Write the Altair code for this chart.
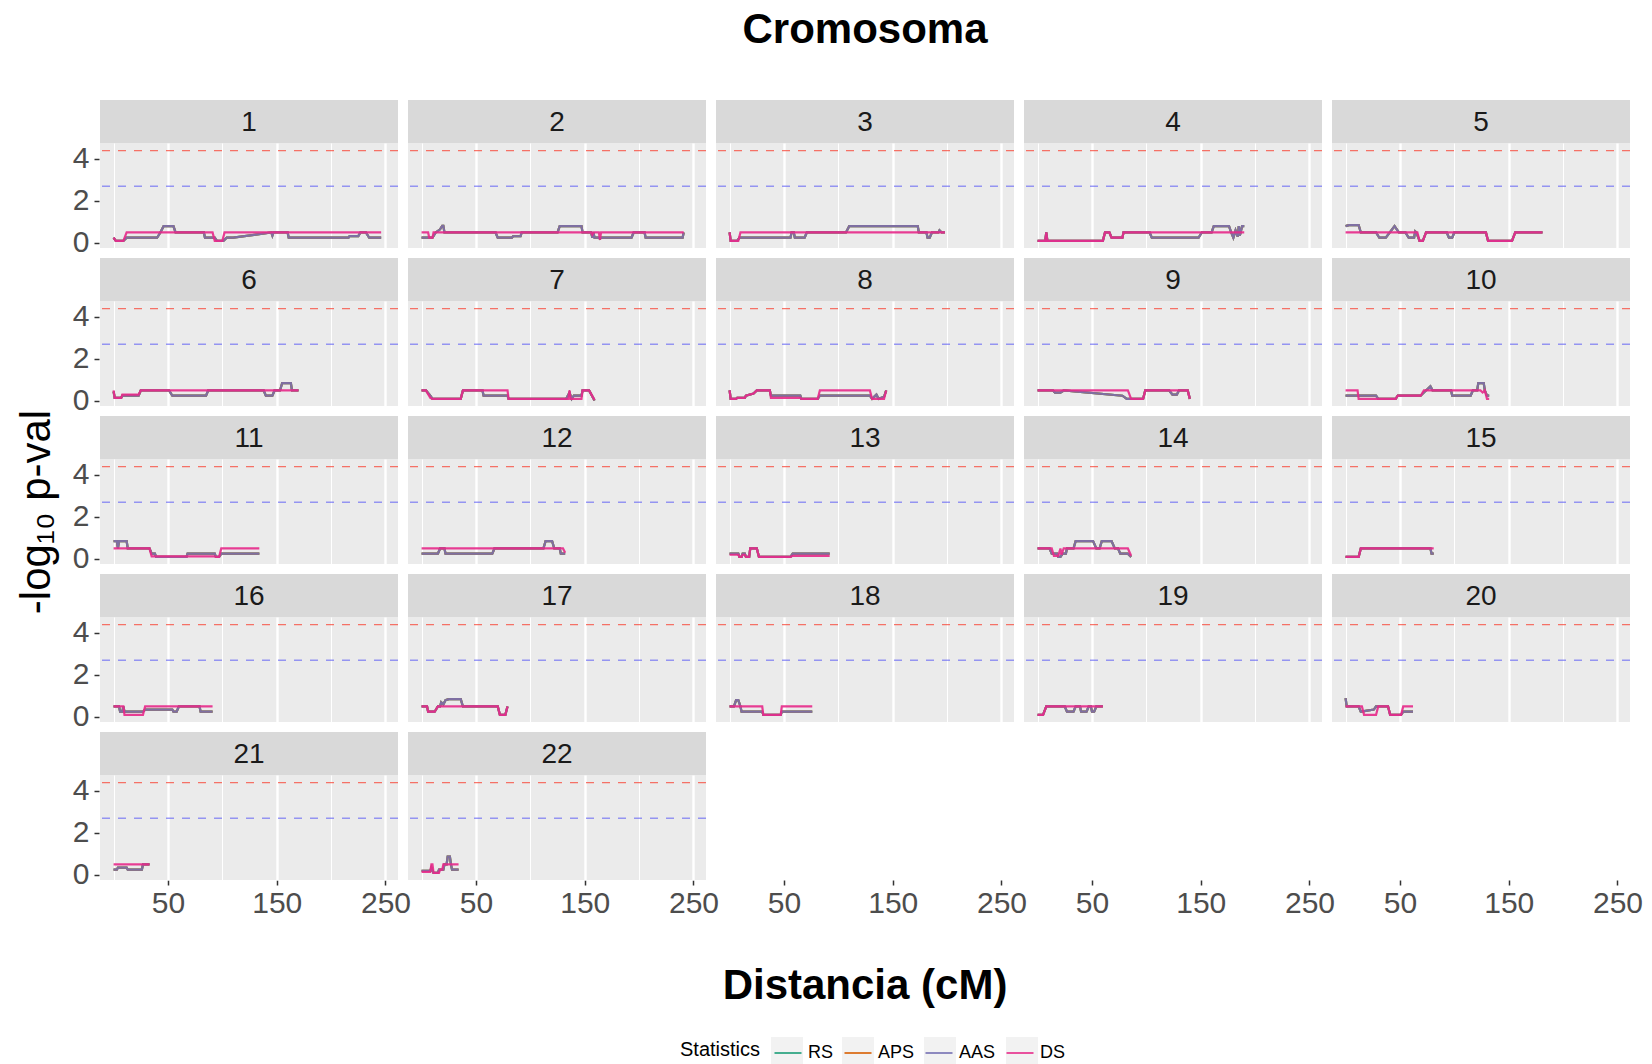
import altair as alt
import pandas as pd

FONT = "Liberation Sans"

# Statistics and their line colours
STATS = ["RS", "APS", "AAS", "DS"]
STAT_COLORS = ["#1B9E77", "#D95F02", "#7570B3", "#E7298A"]
KEY_FILL = "#F2F2F2"

# Significance thresholds (-log10 p)
THRESH_HIGH = 4.4
THRESH_LOW = 2.7

# -log10 p-values along each chromosome: (position in cM, value)
AAS = {
    1: [(0, 0.25), (2, 0.1), (9, 0.1), (12, 0.25), (40, 0.25), (43, 0.5), (46, 0.8), (55, 0.8), (57, 0.5),
        (83, 0.5), (84, 0.25), (93, 0.25), (95, 0.1), (101, 0.1), (104, 0.25), (110, 0.25), (145, 0.5),
        (146, 0.35), (147, 0.5), (160, 0.5), (161, 0.25), (216, 0.25), (217, 0.33), (225, 0.33),
        (227, 0.5), (232, 0.5), (235, 0.25), (246, 0.25)],
    2: [(0, 0.25), (10, 0.25), (13, 0.5), (17, 0.65), (19, 0.82), (20, 0.82), (21, 0.5), (68, 0.5),
        (70, 0.25), (83, 0.25), (84, 0.32), (91, 0.32), (92, 0.5), (125, 0.5), (127, 0.8), (147, 0.8),
        (148, 0.5), (156, 0.5), (157, 0.25), (158, 0.5), (159, 0.25), (163, 0.25), (164, 0.2),
        (165, 0.25), (193, 0.25), (195, 0.5), (205, 0.5), (206, 0.25), (240, 0.25), (241, 0.5)],
    3: [(0, 0.5), (1, 0.1), (7, 0.1), (9, 0.25), (56, 0.25), (57, 0.5), (59, 0.5), (60, 0.25), (69, 0.25),
        (71, 0.5), (107, 0.5), (110, 0.8), (173, 0.8), (174, 0.5), (181, 0.5), (182, 0.25), (184, 0.25),
        (186, 0.5), (192, 0.5), (193, 0.6), (195, 0.5), (198, 0.5)],
    4: [(0, 0.1), (7, 0.1), (8, 0.5), (9, 0.1), (60, 0.1), (62, 0.5), (66, 0.5), (68, 0.25), (78, 0.25),
        (79, 0.5), (103, 0.5), (105, 0.25), (148, 0.25), (151, 0.5), (160, 0.5), (162, 0.8), (176, 0.8),
        (178, 0.5), (180, 0.25), (182, 0.6), (184, 0.3), (185, 0.8), (186, 0.35), (188, 0.8), (190, 0.8)],
    5: [(0, 0.8), (3, 0.85), (12, 0.85), (14, 0.5), (28, 0.5), (31, 0.25), (37, 0.25), (45, 0.8), (49, 0.5),
        (55, 0.5), (58, 0.25), (63, 0.25), (64, 0.55), (65, 0.5), (68, 0.1), (71, 0.1), (74, 0.5), (93, 0.5),
        (95, 0.25), (98, 0.25), (100, 0.5), (129, 0.5), (131, 0.1), (153, 0.1), (156, 0.5), (181, 0.5)],
    6: [(0, 0.45), (1, 0.15), (7, 0.15), (8, 0.25), (23, 0.25), (25, 0.5), (51, 0.5), (54, 0.25), (85, 0.25),
        (87, 0.5), (138, 0.5), (140, 0.25), (146, 0.25), (148, 0.5), (153, 0.5), (155, 0.85), (163, 0.85),
        (164, 0.5), (170, 0.5)],
    7: [(0, 0.5), (4, 0.5), (8, 0.25), (10, 0.1), (36, 0.1), (38, 0.5), (56, 0.5), (57, 0.25), (79, 0.25),
        (80, 0.1), (133, 0.1), (136, 0.4), (138, 0.1), (140, 0.25), (147, 0.25), (148, 0.5), (154, 0.5),
        (159, 0.02)],
    8: [(0, 0.5), (1, 0.1), (6, 0.1), (7, 0.15), (14, 0.15), (15, 0.25), (22, 0.35), (25, 0.5), (37, 0.5),
        (38, 0.25), (65, 0.25), (66, 0.1), (81, 0.1), (83, 0.25), (129, 0.25), (131, 0.1), (135, 0.3),
        (137, 0.1), (142, 0.2), (144, 0.5)],
    9: [(0, 0.5), (14, 0.5), (16, 0.4), (21, 0.4), (24, 0.5), (78, 0.25), (82, 0.1), (97, 0.1), (99, 0.5),
        (121, 0.5), (124, 0.3), (128, 0.3), (130, 0.5), (138, 0.5), (140, 0.1)],
    10: [(0, 0.25), (12, 0.25), (28, 0.25), (30, 0.1), (46, 0.1), (48, 0.25), (69, 0.25), (72, 0.4),
         (78, 0.7), (80, 0.5), (97, 0.5), (98, 0.25), (115, 0.25), (117, 0.5), (121, 0.5), (122, 0.85),
         (127, 0.85), (128, 0.5), (130, 0.25), (132, 0.25)],
    11: [(0, 0.85), (3, 0.85), (4, 0.5), (5, 0.85), (12, 0.85), (13, 0.5), (33, 0.5), (35, 0.25), (38, 0.25),
         (39, 0.1), (67, 0.1), (68, 0.25), (93, 0.25), (94, 0.1), (97, 0.1), (99, 0.25), (134, 0.25)],
    12: [(0, 0.25), (15, 0.25), (17, 0.5), (21, 0.5), (22, 0.25), (65, 0.25), (67, 0.5), (112, 0.5),
         (114, 0.85), (120, 0.85), (122, 0.5), (127, 0.5), (128, 0.25), (132, 0.25)],
    13: [(0, 0.25), (8, 0.25), (9, 0.1), (11, 0.1), (12, 0.25), (14, 0.25), (15, 0.1), (18, 0.1), (19, 0.5),
         (25, 0.5), (27, 0.1), (56, 0.1), (58, 0.25), (92, 0.25)],
    14: [(0, 0.5), (11, 0.5), (13, 0.25), (18, 0.25), (19, 0.1), (21, 0.1), (23, 0.25), (26, 0.25), (27, 0.5),
         (33, 0.5), (35, 0.85), (51, 0.85), (54, 0.5), (57, 0.5), (59, 0.85), (68, 0.85), (71, 0.5),
         (74, 0.5), (76, 0.25), (83, 0.25), (86, 0.1)],
    15: [(0, 0.1), (12, 0.1), (14, 0.5), (78, 0.5), (79, 0.25), (81, 0.25)],
    16: [(0, 0.5), (5, 0.5), (6, 0.25), (8, 0.25), (9, 0.5), (10, 0.25), (27, 0.25), (29, 0.35), (54, 0.35),
         (55, 0.25), (58, 0.25), (60, 0.5), (79, 0.5), (80, 0.25), (91, 0.25)],
    17: [(0, 0.5), (5, 0.5), (6, 0.25), (12, 0.25), (15, 0.5), (17, 0.5), (18, 0.7), (20, 0.6), (22, 0.8),
         (25, 0.85), (36, 0.85), (38, 0.5), (70, 0.5), (72, 0.1), (77, 0.1), (79, 0.5)],
    18: [(0, 0.5), (4, 0.5), (6, 0.8), (8, 0.8), (10, 0.5), (11, 0.25), (30, 0.25), (31, 0.1), (47, 0.1),
         (48, 0.25), (76, 0.25)],
    19: [(0, 0.1), (5, 0.1), (8, 0.5), (25, 0.5), (27, 0.25), (33, 0.25), (35, 0.5), (39, 0.5), (40, 0.25),
         (45, 0.25), (47, 0.5), (49, 0.5), (50, 0.25), (52, 0.25), (54, 0.5), (60, 0.5)],
    20: [(0, 0.9), (1, 0.5), (12, 0.5), (14, 0.25), (26, 0.35), (28, 0.5), (39, 0.5), (41, 0.1), (51, 0.1),
         (53, 0.25), (62, 0.25)],
    21: [(0, 0.25), (3, 0.25), (4, 0.35), (12, 0.35), (13, 0.25), (26, 0.25), (27, 0.5), (33, 0.5)],
    22: [(0, 0.2), (8, 0.2), (9, 0.35), (10, 0.2), (11, 0.1), (15, 0.1), (16, 0.25), (20, 0.25), (21, 0.5),
         (23, 0.5), (24, 0.88), (26, 0.88), (27, 0.5), (28, 0.25), (34, 0.25)],
}

DS = {
    1: [(0, 0.25), (2, 0.1), (9, 0.1), (12, 0.5), (91, 0.5), (93, 0.1), (100, 0.1), (102, 0.5), (246, 0.5)],
    2: [(0, 0.5), (6, 0.5), (7, 0.25), (10, 0.25), (11, 0.5), (156, 0.5), (157, 0.4), (158, 0.5), (163, 0.5),
        (164, 0.15), (165, 0.5), (241, 0.5)],
    3: [(0, 0.5), (1, 0.1), (8, 0.1), (10, 0.5), (198, 0.5)],
    4: [(0, 0.1), (7, 0.1), (8, 0.5), (9, 0.1), (60, 0.1), (62, 0.5), (66, 0.5), (68, 0.25), (78, 0.25),
        (79, 0.5), (190, 0.5)],
    5: [(0, 0.5), (66, 0.5), (68, 0.1), (71, 0.1), (74, 0.5), (129, 0.5), (131, 0.1), (153, 0.1), (156, 0.5),
        (181, 0.5)],
    6: [(0, 0.5), (1, 0.15), (7, 0.15), (8, 0.3), (23, 0.3), (25, 0.5), (170, 0.5)],
    7: [(0, 0.5), (4, 0.5), (8, 0.15), (10, 0.1), (36, 0.1), (38, 0.5), (79, 0.5), (80, 0.1), (135, 0.1),
        (136, 0.5), (137, 0.1), (147, 0.1), (148, 0.5), (154, 0.5), (159, 0.05)],
    8: [(0, 0.5), (1, 0.1), (6, 0.1), (7, 0.15), (14, 0.15), (15, 0.25), (22, 0.35), (25, 0.5), (37, 0.5),
        (38, 0.15), (65, 0.15), (66, 0.1), (81, 0.1), (83, 0.5), (129, 0.5), (131, 0.1), (142, 0.1),
        (144, 0.5)],
    9: [(0, 0.5), (83, 0.5), (86, 0.1), (97, 0.1), (99, 0.5), (138, 0.5), (140, 0.1)],
    10: [(0, 0.5), (11, 0.5), (12, 0.1), (46, 0.1), (48, 0.25), (69, 0.25), (72, 0.5), (124, 0.5), (126, 0.4),
         (128, 0.5), (130, 0.1), (132, 0.1)],
    11: [(0, 0.5), (33, 0.5), (35, 0.12), (93, 0.12), (94, 0.1), (97, 0.1), (99, 0.5), (134, 0.5)],
    12: [(0, 0.5), (130, 0.5), (132, 0.3)],
    13: [(0, 0.2), (8, 0.2), (9, 0.1), (11, 0.1), (12, 0.2), (14, 0.2), (15, 0.1), (18, 0.1), (19, 0.5),
         (25, 0.5), (27, 0.1), (56, 0.1), (58, 0.15), (92, 0.15)],
    14: [(0, 0.5), (13, 0.5), (15, 0.15), (19, 0.15), (21, 0.5), (22, 0.2), (24, 0.5), (83, 0.5), (86, 0.15)],
    15: [(0, 0.1), (12, 0.1), (14, 0.5), (81, 0.5)],
    16: [(0, 0.5), (9, 0.5), (10, 0.1), (27, 0.1), (29, 0.5), (91, 0.5)],
    17: [(0, 0.5), (5, 0.5), (6, 0.25), (12, 0.25), (15, 0.5), (70, 0.5), (72, 0.1), (77, 0.1), (79, 0.5)],
    18: [(0, 0.5), (30, 0.5), (31, 0.1), (47, 0.1), (48, 0.5), (76, 0.5)],
    19: [(0, 0.1), (5, 0.1), (8, 0.5), (60, 0.5)],
    20: [(0, 0.5), (15, 0.5), (17, 0.1), (28, 0.1), (30, 0.5), (39, 0.5), (41, 0.1), (51, 0.1), (53, 0.5),
         (62, 0.5)],
    21: [(0, 0.5), (33, 0.5)],
    22: [(0, 0.15), (8, 0.15), (9, 0.5), (10, 0.5), (11, 0.1), (16, 0.1), (17, 0.25), (19, 0.25), (20, 0.5),
         (34, 0.5)],
}

# RS and APS run on the same track as AAS
RS = AAS
APS = AAS

rows = []
for stat, tracks in (("RS", RS), ("APS", APS), ("AAS", AAS), ("DS", DS)):
    for chrom, pts in tracks.items():
        for cm, v in pts:
            rows.append({"chr": chrom, "cM": cm, "val": v, "stat": stat})
df = pd.DataFrame(rows)
df["first"] = ~df.duplicated("chr")
# separate field for the legend key backgrounds, so that legend stays apart
KEYS = [s + " " for s in STATS]
df["key"] = df["stat"] + " "

# panel geometry (plot area of one panel, and the strip above it)
W, H, STRIP = 298, 105, 43
X_DOMAIN = [-12.5, 261.5]
Y_DOMAIN = [-0.24, 4.76]
CELL_TOP = 142  # page y of the first panel's plot area

x_axis = alt.Axis(
    values=[0, 50, 100, 150, 200, 250],
    labelExpr="datum.value % 100 == 50 ? datum.label : ''",
    gridColor="white",
    gridWidth={"condition": {"test": "datum.value % 100 == 50", "value": 2.4}, "value": 1.1},
    tickOpacity={"condition": {"test": "datum.value % 100 == 50", "value": 1}, "value": 0},
    tickColor="#333333", tickSize=5, tickWidth=1.5, domain=False,
    labelFont=FONT, labelFontSize=30, labelColor="#4D4D4D", labelPadding=3,
    labelOverlap=False, title=None,
)
y_axis = alt.Axis(
    values=[0, 1, 2, 3, 4],
    labelExpr="datum.value % 2 == 0 ? datum.label : ''",
    gridColor="white",
    gridWidth={"condition": {"test": "datum.value % 2 == 0", "value": 2.4}, "value": 1.1},
    tickOpacity={"condition": {"test": "datum.value % 2 == 0", "value": 1}, "value": 0},
    tickColor="#333333", tickSize=5, tickWidth=1.5, domain=False,
    labelFont=FONT, labelFontSize=30, labelColor="#4D4D4D", labelPadding=5,
    labelOverlap=False, title=None,
)

# legend layout: the key squares sit exactly under the line samples
LEG_X, LEG_Y = 670, 894
TITLE_FS, TITLE_PAD = 20, 11
TITLE_W = 80  # width of "Statistics" at 20px
entry_style = dict(
    orient="none", legendY=LEG_Y, direction="horizontal",
    labelFont=FONT, labelFontSize=18, labelColor="black", labelOffset=4,
    labelExpr="trim(datum.label)", symbolSize=900, symbolStrokeWidth=2, columnPadding=6,
)

base = alt.Chart()

strip_bg = base.mark_rect(color="#D9D9D9").encode(
    x=alt.value(0), x2=alt.value(W), y=alt.value(-STRIP), y2=alt.value(0)
).transform_filter("datum.first")

strip_txt = base.mark_text(font=FONT, fontSize=28, color="#1A1A1A", baseline="middle").encode(
    x=alt.value(W / 2), y=alt.value(-STRIP / 2 + 1), text="chr:N"
).transform_filter("datum.first")

rule_hi = base.mark_rule(color="#F8483A", opacity=0.75, strokeDash=[8, 8], strokeWidth=1.3).encode(
    y=alt.datum(THRESH_HIGH)
).transform_filter("datum.first")

rule_lo = base.mark_rule(color="#5A5AF5", opacity=0.6, strokeDash=[8, 8], strokeWidth=1.3).encode(
    y=alt.datum(THRESH_LOW)
).transform_filter("datum.first")

# grey legend key backgrounds (the mark itself is invisible)
keys = base.mark_point(size=0, opacity=0, filled=True).encode(
    x=alt.X("cM:Q"), y=alt.Y("val:Q"),
    fill=alt.Fill(
        "key:N",
        scale=alt.Scale(domain=KEYS, range=[KEY_FILL] * len(KEYS)),
        legend=alt.Legend(
            title=None, legendX=LEG_X + TITLE_W + TITLE_PAD,
            symbolType="square", symbolOpacity=1, symbolStrokeColor=KEY_FILL,
            labelOpacity=0, **entry_style,
        ),
    ),
).transform_filter("datum.first")

lines = base.mark_line(strokeWidth=2.2, opacity=0.9).encode(
    x=alt.X("cM:Q", scale=alt.Scale(domain=X_DOMAIN, nice=False, zero=False), axis=x_axis),
    y=alt.Y("val:Q", scale=alt.Scale(domain=Y_DOMAIN, nice=False, zero=False), axis=y_axis),
    stroke=alt.Stroke(
        "stat:N",
        scale=alt.Scale(domain=STATS, range=STAT_COLORS),
        legend=alt.Legend(
            title="Statistics", legendX=LEG_X,
            titleOrient="left", titleAnchor="middle", titleBaseline="middle",
            titleFont=FONT, titleFontSize=TITLE_FS, titleFontWeight="normal", titleColor="black",
            titlePadding=TITLE_PAD,
            symbolType="M-0.9,0H0.9", symbolOpacity=0.8,
            **entry_style,
        ),
    ),
)

panels = alt.layer(strip_bg, strip_txt, rule_hi, rule_lo, keys, lines, data=df).properties(
    width=W, height=H
).facet(
    facet=alt.Facet(
        "chr:O", sort="ascending",
        header=alt.Header(
            labelExpr="''", labelFontSize=1, labelPadding=0,
            title="Cromosoma", titleFont=FONT, titleFontSize=42,
            titleFontWeight="bold", titleColor="black", titlePadding=47,
        ),
    ),
    columns=5, spacing={"row": 9, "column": 8},
)

plain = alt.ViewBackground(fill="white", strokeWidth=0)

ytitle = alt.Chart(pd.DataFrame({"t": ["-log₁₀ p-val"]})).mark_text(
    font=FONT, fontSize=42, color="black", angle=270, align="center", baseline="middle"
).encode(
    text="t:N", x=alt.value(27), y=alt.value(511 - CELL_TOP)
).properties(width=55, height=700, view=plain)

xtitle = alt.Chart(pd.DataFrame({"t": ["Distancia (cM)"]})).mark_text(
    font=FONT, fontSize=42, fontWeight="bold", color="black", align="center", baseline="alphabetic"
).encode(
    text="t:N", x=alt.value(855), y=alt.value(81)
).properties(width=1600, height=95, view=plain)

chart = alt.vconcat(
    alt.hconcat(ytitle, panels, spacing=7),
    xtitle,
    spacing=0,
).properties(
    padding={"left": 10, "top": 9, "right": 0, "bottom": 0},
    background="white",
).configure_view(fill="#EBEBEB", strokeWidth=0)

chart.save("out.html", embed_options={"renderer": "svg", "actions": False})
